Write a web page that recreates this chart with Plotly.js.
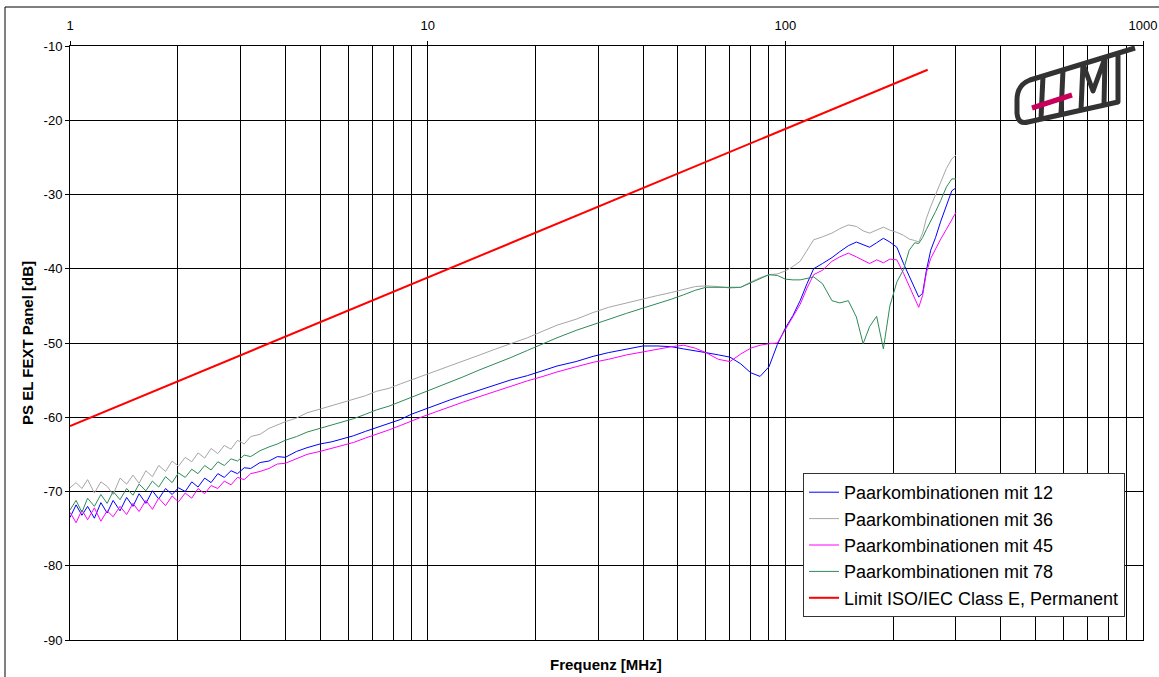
<!DOCTYPE html>
<html>
<head>
<meta charset="utf-8">
<script src="https://cdn.plot.ly/plotly-3.0.1.min.js"></script>
<style>
html,body{margin:0;padding:0;background:#fff;}
#chart{width:1159px;height:677px;}
</style>
</head>
<body>
<div id="chart"></div>
<script>
// ---- data ----
var freqMHz = [1.00,1.04,1.08,1.12,1.17,1.22,1.27,1.32,1.38,1.44,1.50,1.56,1.63,1.70,1.77,1.85,1.93,2.01,2.10,2.19,
  2.28,2.38,2.48,2.59,2.70,2.82,2.94,3.07,3.2,3.4,3.6,3.8,4.0,4.3,4.6,5.0,5.4,5.8,6.2,6.7,
  7.2,7.8,8.4,9.0,9.7,10.5,11.5,12.5,14,15.5,17,19,21,23,26,29,32,36,40,44,
  48,52,56,60,65,70,75,80,85,90,95,100,105,110,115,120,127,135,142,150,
  158,165,172,180,188,196,205,214,222,230,236,242,248,255,263,272,282,292,300];

var pk12 = [-73.5,-71.8,-73.2,-72.0,-73.6,-71.5,-72.9,-71.2,-72.6,-70.8,-72.0,-70.3,-71.6,-69.9,-71.0,-69.6,-70.4,-69.5,-70.0,-68.7,
  -69.4,-68.2,-68.8,-67.6,-68.1,-67.2,-67.6,-66.8,-66.9,-66.1,-65.9,-65.3,-65.4,-64.6,-64.1,-63.6,-63.3,-62.9,-62.5,-61.9,
  -61.4,-60.9,-60.3,-59.6,-59.0,-58.4,-57.7,-57.1,-56.3,-55.6,-55.0,-54.4,-53.7,-53.1,-52.5,-51.8,-51.3,-50.8,-50.4,-50.4,
  -50.5,-50.8,-51.1,-51.3,-51.6,-51.9,-52.8,-54.0,-54.5,-53.2,-50.2,-48.0,-46.3,-44.3,-42.0,-40.0,-39.3,-38.5,-37.7,-36.9,
  -36.4,-36.8,-37.1,-36.5,-35.9,-36.4,-37.1,-39.3,-41.0,-42.7,-43.8,-43.3,-40.2,-37.5,-35.8,-33.6,-31.5,-29.5,-29.1];

var pk36 = [-69.5,-68.8,-69.6,-68.4,-70.2,-68.7,-69.3,-70.4,-68.2,-69.0,-67.8,-68.9,-67.2,-68.0,-66.5,-67.3,-65.9,-66.6,-65.4,-66.0,
  -64.8,-65.5,-64.2,-64.9,-63.8,-64.3,-63.1,-63.6,-62.6,-62.3,-61.5,-61.0,-60.6,-60.1,-59.4,-58.9,-58.4,-58.0,-57.6,-57.1,
  -56.5,-56.1,-55.5,-55.0,-54.4,-53.8,-53.1,-52.5,-51.6,-50.8,-50.1,-49.3,-48.4,-47.6,-46.8,-45.9,-45.2,-44.6,-44.0,-43.6,
  -43.2,-42.8,-42.4,-42.3,-42.4,-42.6,-42.5,-41.8,-41.2,-40.8,-40.7,-40.3,-39.7,-39.0,-37.5,-36.1,-35.7,-35.2,-34.6,-34.1,
  -34.3,-34.9,-35.2,-34.8,-34.4,-34.8,-35.1,-35.5,-36.0,-36.2,-36.4,-35.2,-33.2,-31.6,-30.0,-28.4,-26.5,-25.2,-24.7];

var pk45 = [-72.8,-74.2,-72.5,-73.8,-72.2,-74.0,-72.6,-73.4,-72.0,-73.1,-71.6,-72.7,-71.2,-72.4,-70.9,-71.9,-70.6,-71.4,-70.2,-70.9,
  -69.6,-70.3,-69.2,-69.6,-68.6,-69.1,-68.1,-68.4,-67.6,-67.3,-66.9,-66.3,-66.2,-65.6,-65.0,-64.6,-64.2,-63.8,-63.4,-62.8,
  -62.3,-61.7,-61.1,-60.5,-59.9,-59.3,-58.6,-58.0,-57.2,-56.5,-55.8,-55.1,-54.5,-53.9,-53.2,-52.6,-52.2,-51.6,-51.2,-50.8,
  -50.5,-50.3,-50.7,-51.3,-52.2,-52.5,-51.5,-50.7,-50.3,-50.1,-50.0,-48.2,-46.5,-44.8,-42.6,-40.8,-40.2,-39.0,-38.4,-37.9,
  -38.4,-38.9,-39.3,-38.8,-39.2,-38.7,-38.8,-40.6,-42.3,-43.8,-45.2,-43.6,-40.5,-38.6,-37.3,-36.0,-34.7,-33.3,-32.4];

var pk78 = [-72.5,-71.2,-72.8,-70.9,-72.0,-70.4,-71.6,-70.0,-71.1,-69.6,-70.5,-69.0,-69.9,-68.6,-69.4,-68.0,-68.8,-67.5,-68.1,-67.0,
  -67.6,-66.5,-67.1,-66.0,-66.5,-65.6,-65.9,-65.1,-65.3,-64.5,-64.0,-63.6,-63.1,-62.6,-62.0,-61.5,-61.0,-60.6,-60.2,-59.6,
  -59.0,-58.5,-57.9,-57.3,-56.7,-56.0,-55.3,-54.6,-53.6,-52.8,-52.0,-51.0,-50.1,-49.3,-48.3,-47.5,-46.8,-46.0,-45.3,-44.7,
  -44.1,-43.5,-42.9,-42.5,-42.5,-42.6,-42.5,-41.9,-41.3,-40.8,-40.9,-41.4,-41.5,-41.5,-41.3,-41.1,-42.0,-44.3,-44.6,-44.3,
  -46.5,-50.1,-47.8,-46.4,-50.8,-45.0,-41.8,-40.1,-37.5,-36.5,-36.6,-35.8,-34.7,-33.6,-32.3,-30.8,-29.0,-27.9,-27.9];

var limitFreq = [1, 10, 100, 250];
var limitClassE = [-61.2, -41.2, -21.2, -13.2];

var seriesNames = ["Paarkombinationen mit 12","Paarkombinationen mit 36","Paarkombinationen mit 45","Paarkombinationen mit 78","Limit ISO/IEC Class E, Permanent"];
var xTickVals = [1, 10, 100, 1000];
var xTickText = ["1", "10", "100", "1000"];
var yTickVals = [-10,-20,-30,-40,-50,-60,-70,-80,-90];
var yTickText = ["-10","-20","-30","-40","-50","-60","-70","-80","-90"];

// ---- chart ----
var FONT = "Liberation Sans, Arial, sans-serif";
function line(y, name, color, w) {
  return {x: freqMHz, y: y, name: name, type: "scatter", mode: "lines",
          line: {color: color, width: w}};
}
var traces = [
  line(pk12, seriesNames[0], "#0000ff", 1),
  line(pk36, seriesNames[1], "#a6a6a6", 1),
  line(pk45, seriesNames[2], "#ff00ff", 1),
  line(pk78, seriesNames[3], "#2e8b57", 1),
  {x: limitFreq, y: limitClassE, name: seriesNames[4], type: "scatter", mode: "lines",
   line: {color: "#ff0000", width: 2}}
];

var minorVals = [];
[1, 10, 100].forEach(function (d) { for (var k = 2; k <= 9; k++) minorVals.push(d * k); });

// plot-area pixel helpers for decorations
var L = 70, R = 1143, T = 46, B = 640;
function px(x) { return (x - L) / (R - L); }
function py(y) { return (B - y) / (B - T); }

var logoSvg = '<svg xmlns="http://www.w3.org/2000/svg" width="130" height="83" viewBox="0 0 130 83">' +
  '<g fill="none" stroke="#333333" stroke-width="5" stroke-linejoin="round" stroke-linecap="butt">' +
  '<path d="M125,3 L20,35 Q7,40 7,55 L7,68 Q8,80 18,77 L108,57 L108,8"/>' +
  '<path d="M33,31 L31,73"/>' +
  '<path d="M53,25 L51,69"/>' +
  '<path d="M73,19 L71,65 M73,19 L83,46 L95,13 L94,60"/>' +
  '</g>' +
  '<path d="M22,63 L62,50" stroke="#c8005a" stroke-width="5"/>' +
  '</svg>';

var layout = {
  width: 1159, height: 677,
  paper_bgcolor: "#ffffff", plot_bgcolor: "#ffffff",
  margin: {l: L, r: 1159 - R, t: T, b: 677 - B},
  font: {family: FONT, size: 13, color: "#000"},
  showlegend: true,
  legend: {x: px(803), y: py(473), xanchor: "left", yanchor: "top",
           bgcolor: "#ffffff", bordercolor: "#333333", borderwidth: 1,
           itemwidth: 30,
           font: {family: FONT, size: 18, color: "#000"}, tracegroupgap: 0},
  xaxis: {type: "log", range: [0, 3], side: "top",
          tickvals: xTickVals, ticktext: xTickText,
          ticks: "outside", ticklen: 4, tickcolor: "#000", ticklabelstandoff: 6,
          showgrid: true, gridcolor: "#000", gridwidth: 1,
          minor: {tickvals: minorVals, showgrid: true, gridcolor: "#000", gridwidth: 1, ticks: ""},
          showline: true, linecolor: "#000", linewidth: 1, mirror: true,
          zeroline: false, tickfont: {family: FONT, size: 13}},
  yaxis: {range: [-90, -10], tickvals: yTickVals, ticktext: yTickText,
          ticks: "outside", ticklen: 4, tickcolor: "#000",
          showgrid: true, gridcolor: "#000", gridwidth: 1,
          showline: true, linecolor: "#000", linewidth: 1, mirror: true,
          zeroline: false, tickfont: {family: FONT, size: 13},
          title: {text: "<b>PS EL FEXT Panel [dB]</b>", font: {family: FONT, size: 15}, standoff: 6}},
  annotations: [
    {text: "<b>Frequenz [MHz]</b>", xref: "paper", yref: "paper", x: px(606), y: py(664),
     xanchor: "center", yanchor: "middle", showarrow: false, font: {family: FONT, size: 15}}
  ],
  shapes: [
    {type: "line", xref: "paper", yref: "paper", x0: px(5), x1: px(5), y0: py(7), y1: py(690),
     line: {color: "#000", width: 1}},
    {type: "line", xref: "paper", yref: "paper", x0: px(5), x1: px(1170), y0: py(7), y1: py(7),
     line: {color: "#000", width: 1}}
  ],
  images: [
    {source: "data:image/svg+xml;charset=utf-8," + encodeURIComponent(logoSvg),
     xref: "paper", yref: "paper", x: px(1010), y: py(45), sizex: 130 / (R - L), sizey: 83 / (B - T),
     xanchor: "left", yanchor: "top", sizing: "stretch", layer: "above"}
  ]
};

Plotly.newPlot("chart", traces, layout, {displayModeBar: false, staticPlot: true});
</script>
</body>
</html>
